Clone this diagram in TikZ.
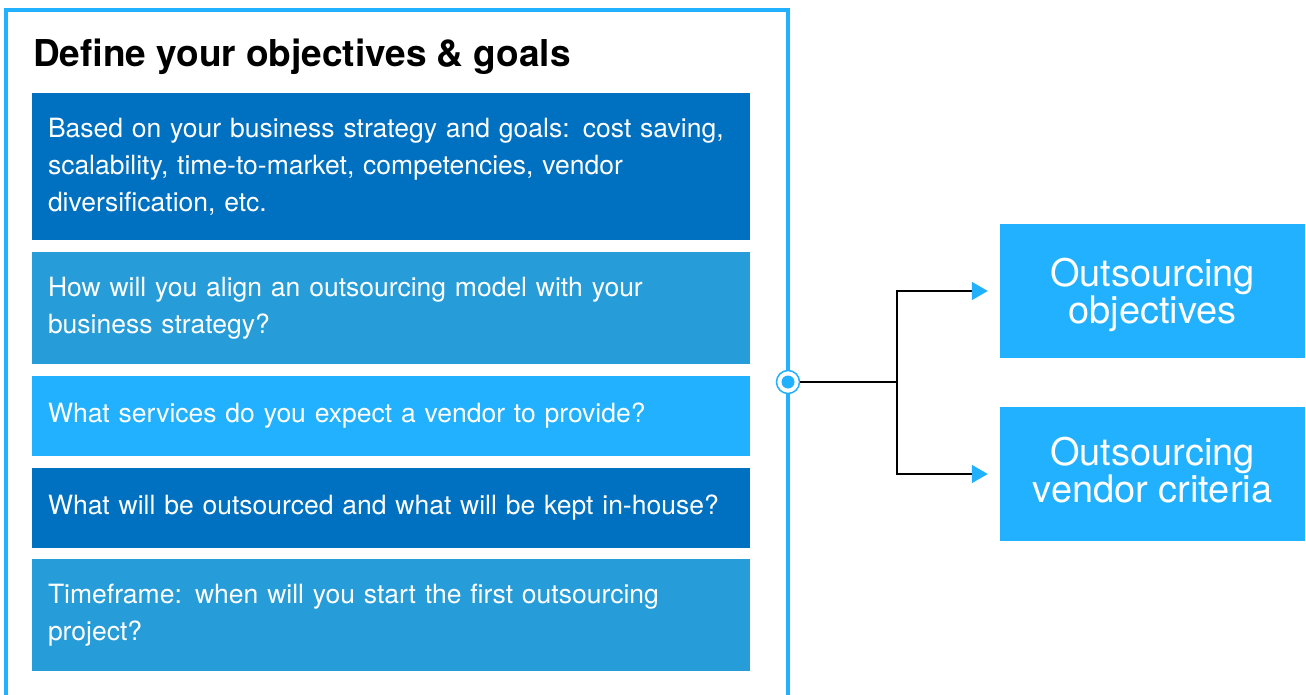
\documentclass[tikz,border=0pt]{standalone}
\usepackage{fontspec}
\setmainfont{TeX Gyre Heros}
\usetikzlibrary{arrows.meta}
\definecolor{darkblue}{HTML}{0070C0}
\definecolor{midblue}{HTML}{269CD8}
\definecolor{lightblue}{HTML}{21B1FF}
\begin{document}
\begin{tikzpicture}[x=1pt,y=-1pt,
    qbox/.style={fill=#1,text=white,minimum width=718pt,text width=686pt,inner xsep=16pt,align=left,
        font=\fontsize{26.5}{37}\selectfont},
    goalbox/.style={fill=lightblue,text=white,minimum width=305pt,minimum height=134pt,align=center,
        text depth=0pt,font=\fontsize{38}{37}\selectfont},
    link/.style={line width=1.6pt,-{Triangle[length=16pt,width=18pt,color=lightblue]},shorten >=12pt}]
    \useasboundingbox (0,0) rectangle (1306,695);
    \draw[lightblue,line width=4.5pt] (6,700) -- (6,10) -- (788,10) -- (788,700);
    \node[anchor=base west,inner sep=0pt,font=\bfseries\fontsize{37}{40}\selectfont] (title) at (33,67) {Define your objectives \& goals};
    \node[qbox=darkblue,minimum height=147pt] (b1) at (391,166.5) {Based on your business strategy and goals: cost saving,\\scalability, time-to-market, competencies, vendor\\diversification, etc.};
    \node[qbox=midblue,minimum height=112pt] (b2) at (391,308) {How will you align an outsourcing model with your\\business strategy?};
    \node[qbox=lightblue,minimum height=80pt] (b3) at (391,416) {What services do you expect a vendor to provide?};
    \node[qbox=darkblue,minimum height=80pt] (b4) at (391,508) {What will be outsourced and what will be kept in-house?};
    \node[qbox=midblue,minimum height=112pt] (b5) at (391,615) {Timeframe: when will you start the first outsourcing\\project?};
    \node[goalbox] (obj) at (1152.5,291) {Outsourcing\\objectives};
    \node[goalbox,text depth=9pt] (crit) at (1152.5,474) {Outsourcing\\vendor criteria};
    \node[circle,draw=lightblue,line width=1.5pt,fill=white,minimum size=23pt,inner sep=0pt] (dot) at (788,382) {};
    \fill[lightblue] (dot.center) circle (6.5pt);
    \draw[line width=1.6pt] (dot.east) -- ++(97,0) coordinate (fork);
    \draw[link] (fork) |- (obj.west);
    \draw[link] (fork) |- (crit.west);
\end{tikzpicture}
\end{document}
